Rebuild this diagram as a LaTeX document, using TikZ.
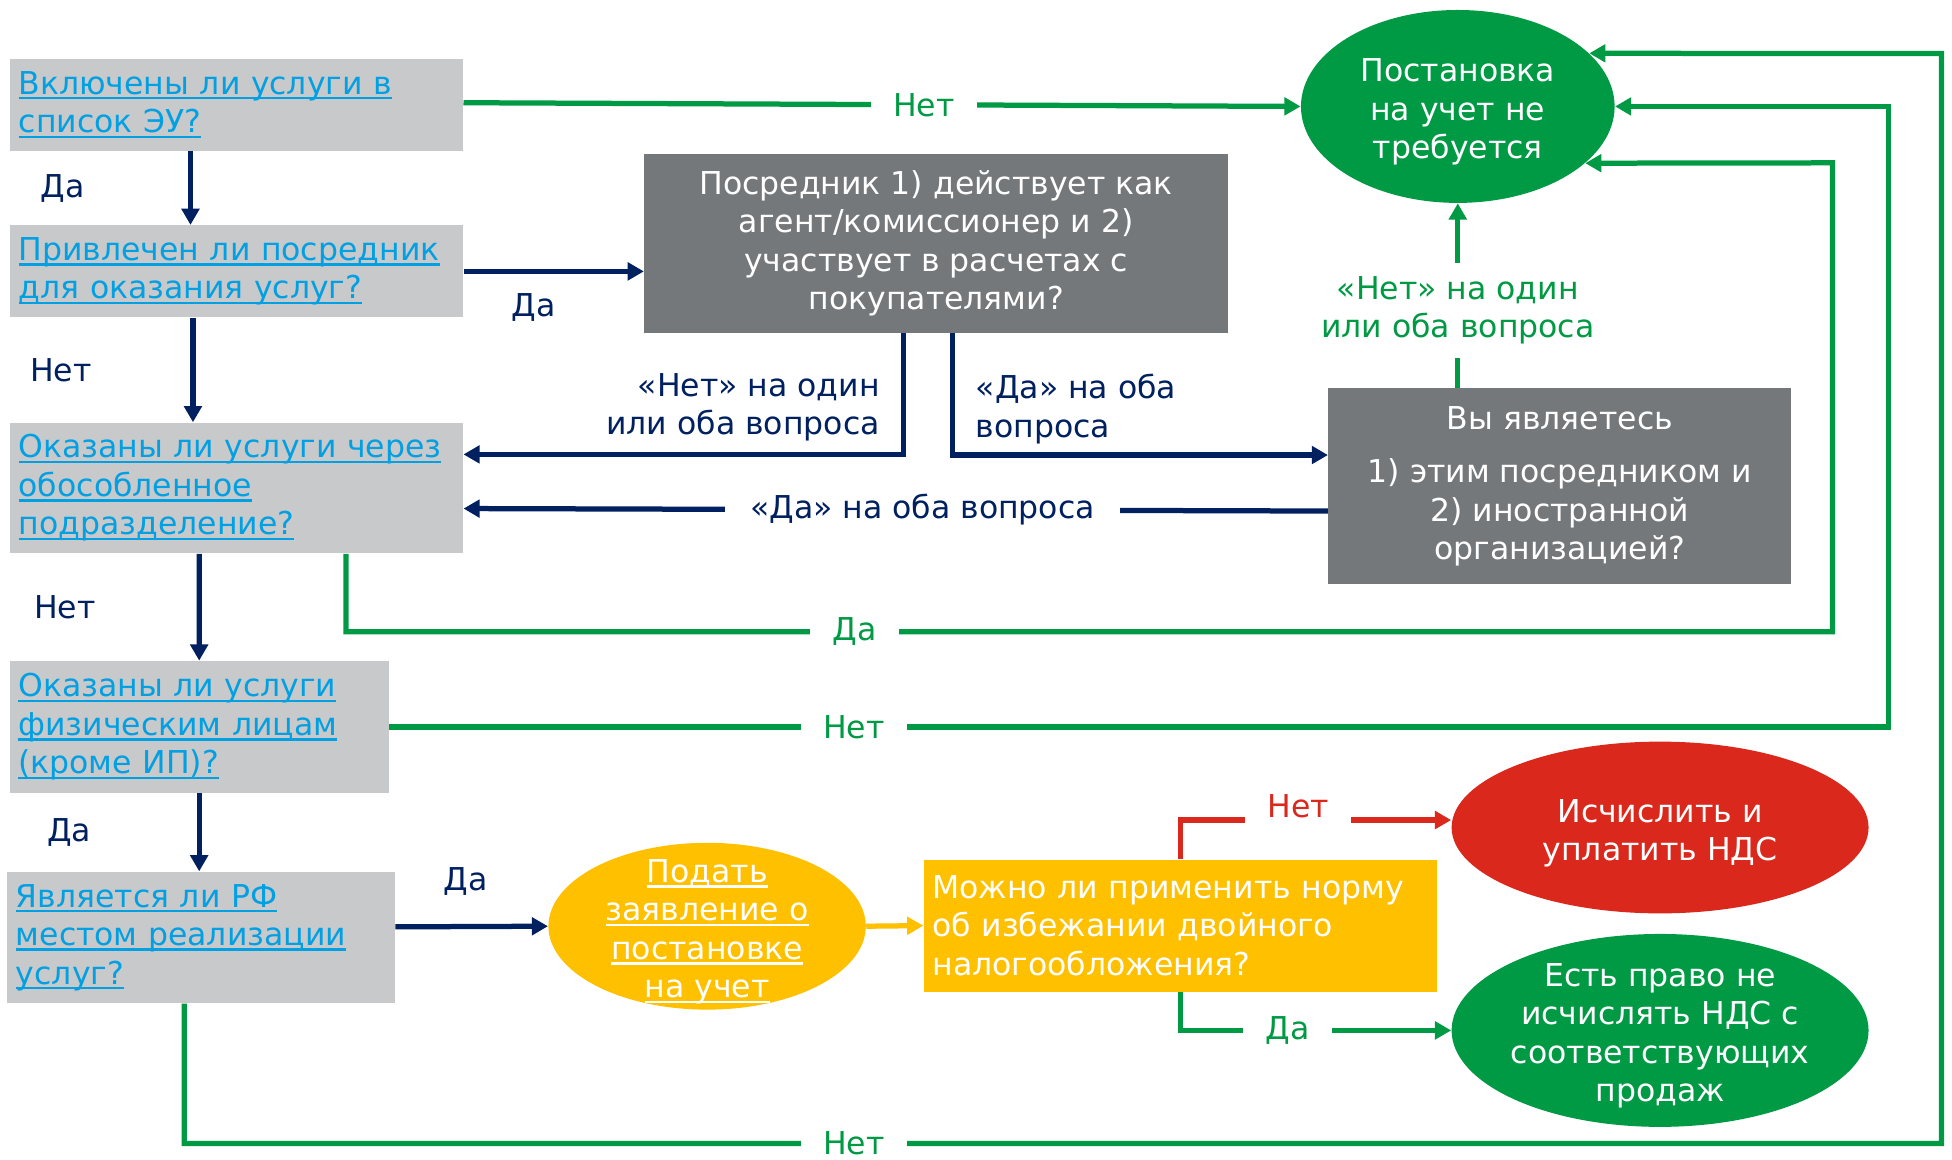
\documentclass[tikz,border=0pt]{standalone}
\usepackage{fontspec}
\setmainfont{DejaVu Sans}
\usepackage{tikz}
\usetikzlibrary{arrows.meta, shapes.geometric}

\definecolor{boxgray}{RGB}{200,201,203}
\definecolor{linkblue}{RGB}{0,160,227}
\definecolor{qgray}{RGB}{117,120,123}
\definecolor{navy}{RGB}{0,32,96}
\definecolor{okgreen}{RGB}{0,154,68}
\definecolor{warnred}{RGB}{218,41,28}
\definecolor{amber}{RGB}{255,192,0}

\newcommand{\dfont}{\fontsize{14.4pt}{17.6pt}\selectfont}
\newsavebox{\ulbox}
\newcommand{\uln}[1]{\leavevmode\sbox{\ulbox}{#1}\rlap{\rule[-2.4pt]{\wd\ulbox}{1.1pt}}\usebox{\ulbox}}

\tikzset{
  qbox/.style={rectangle, fill=boxgray, text=linkblue, align=left, inner xsep=0.14cm, inner ysep=0pt},
  dbox/.style={rectangle, fill=qgray, text=white, align=center, inner sep=0pt},
  oval/.style={ellipse, inner sep=0pt},
  ovtext/.style={text=white, align=center, yshift=-0.09cm},
  tip/.style={-{Triangle[length=0.26cm,width=0.28cm]}},
  nline/.style={tip, draw=navy, line width=2.4pt},
  gline/.style={tip, draw=okgreen, line width=2.4pt},
  rline/.style={tip, draw=warnred, line width=2.4pt},
  yline/.style={tip, draw=amber, line width=2.4pt},
  nlbl/.style={text=navy, inner sep=1pt},
  glbl/.style={text=okgreen, fill=white, inner xsep=0.36cm, inner ysep=0.1cm},
  rlbl/.style={text=warnred, fill=white, inner xsep=0.36cm, inner ysep=0.1cm}
}

\begin{document}
\begin{tikzpicture}[x=0.02cm, y=-0.02cm, font=\dfont]
\path[fill=white] (0,0) rectangle (1568,931);
\useasboundingbox (0,0) rectangle (1568,931);

% Define nodes
\node[qbox, text width=7cm, minimum height=1.48cm] (incl) at (190,84) {\uln{Включены ли услуги в}\\\uln{список ЭУ?}};
\node[qbox, text width=7cm, minimum height=1.48cm] (agent) at (190,218) {\uln{Привлечен ли посредник}\\\uln{для оказания услуг?}};
\node[qbox, text width=7cm, minimum height=2.1cm] (branch) at (190,392) {\uln{Оказаны ли услуги через}\\\uln{обособленное}\\\uln{подразделение?}};
\node[qbox, text width=5.81cm, minimum height=2.12cm] (phys) at (160,584) {\uln{Оказаны ли услуги}\\\uln{физическим лицам}\\\uln{(кроме ИП)?}};
\node[qbox, text width=5.95cm, minimum height=2.11cm] (place) at (161.5,753) {\uln{Является ли РФ}\\\uln{местом реализации}\\\uln{услуг?}};

\node[dbox, minimum width=9.38cm, minimum height=2.88cm] (inter) at (752,195.5) {Посредник 1) действует как\\агент/комиссионер и 2)\\участвует в расчетах с\\покупателями?};
\node[dbox, minimum width=7.44cm, minimum height=3.14cm] (foreign) at (1253,390.5) {Вы являетесь\\[0.24cm]1) этим посредником и\\2) иностранной\\организацией?};
\node[qbox, fill=amber, text=white, text width=7.96cm, minimum height=2.12cm] (treaty) at (948,743.5) {Можно ли применить норму\\об избежании двойного\\налогообложения?};

\node[oval, fill=okgreen, minimum width=5.04cm, minimum height=3.1cm,
  label={[ovtext]center:{Постановка\\на учет не\\требуется}}] (noreg) at (1171,85.5) {};
\node[oval, fill=amber, minimum width=5.1cm, minimum height=2.68cm,
  label={[ovtext]center:{\uln{Подать}\\\uln{заявление о}\\\uln{постановке}\\\uln{на учет}}}] (apply) at (568,744) {};
\node[oval, fill=warnred, minimum width=6.7cm, minimum height=2.76cm,
  label={[ovtext]center:{Исчислить и\\уплатить НДС}}] (pay) at (1333.5,664.7) {};
\node[oval, fill=okgreen, minimum width=6.7cm, minimum height=3.1cm,
  label={[ovtext]center:{Есть право не\\исчислять НДС с\\соответствующих\\продаж}}] (exempt) at (1333.5,827.7) {};

% Connect the nodes
\draw[nline] ([xshift=-0.74cm]incl.south) -- node[nlbl, left=1.62cm]{Да} ([xshift=-0.74cm]agent.north);
\draw[nline] ([xshift=-0.7cm]agent.south) -- node[nlbl, left=1.55cm]{Нет} ([xshift=-0.7cm]branch.north);
\draw[nline] ([xshift=-0.6cm]branch.south) -- node[nlbl, left=1.59cm]{Нет} (phys.north);
\draw[nline] (phys.south) -- node[nlbl, left=1.66cm]{Да} (phys.south |- place.north);
\draw[nline] (agent.east) -- node[nlbl, below=0.28cm, pos=0.39]{Да} (agent.east -| inter.west);
\draw[nline] ([yshift=0.17cm]place.east) -- node[nlbl, above=0.43cm, pos=0.46]{Да} (apply.west);
\draw[nline] ([xshift=-0.53cm]inter.south) |- node[nlbl, left=0.3cm, pos=0.305, align=right]{«Нет» на один\\или оба вопроса} ([yshift=0.54cm]branch.east);
\draw[nline] ([xshift=0.26cm]inter.south) |- node[nlbl, right=0.3cm, pos=0.31, align=left]{«Да» на оба\\вопроса} ([yshift=0.5cm]foreign.west);
\draw[nline] ([yshift=-0.4cm]foreign.west) -- node[nlbl, fill=white, inner xsep=0.4cm, pos=0.469]{«Да» на оба вопроса} ([yshift=-0.33cm]branch.east);

\draw[gline] ([yshift=0.03cm]incl.east) -- node[glbl, pos=0.55]{Нет} (noreg.west);
\draw[gline] (foreign.north -| noreg.south) -- node[glbl, pos=0.42, align=center, inner ysep=0.22cm]{«Нет» на один\\или оба вопроса} (noreg.south);
\draw[gline] ([xshift=1.76cm]branch.south) -- (278,507.5) -- node[glbl, pos=0.342]{Да} (1472,507.5) -- (1472,130.8) -- (noreg.-24);
\draw[gline] (phys.east) -- node[glbl, pos=0.31]{Нет} (1517,584) -- (1517,85.5) -- (noreg.east);
\draw[gline] ([xshift=-0.27cm]place.south) -- (148,918.5) -- node[glbl, pos=0.381]{Нет} (1559.5,918.5) -- (1559.5,43) -- (noreg.22);

\draw[yline] (apply.east) -- (treaty.west);
\draw[rline] (treaty.north) |- node[rlbl, pos=0.718, yshift=0.22cm]{Нет} ([yshift=0.12cm]pay.west);
\draw[gline] (treaty.south) |- node[glbl, pos=0.698]{Да} (exempt.west);
\end{tikzpicture}
\end{document}
